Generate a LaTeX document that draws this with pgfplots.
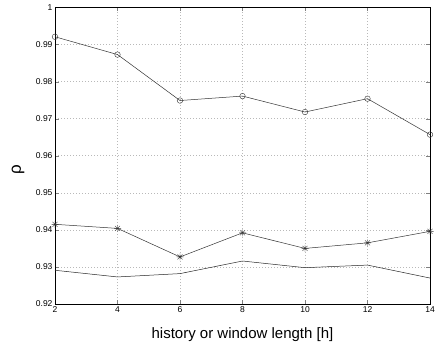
\documentclass[border=0pt]{standalone}
\usepackage{fontspec}
\setmainfont{Liberation Sans}
\usepackage{pgfplots}
\pgfplotsset{compat=1.18}
\pgfdeclareplotmark{mstar}{%
  \pgfpathmoveto{\pgfqpoint{-\pgfplotmarksize}{0pt}}\pgfpathlineto{\pgfqpoint{\pgfplotmarksize}{0pt}}%
  \pgfpathmoveto{\pgfqpoint{0pt}{-\pgfplotmarksize}}\pgfpathlineto{\pgfqpoint{0pt}{\pgfplotmarksize}}%
  \pgfpathmoveto{\pgfqpoint{-0.707\pgfplotmarksize}{-0.707\pgfplotmarksize}}\pgfpathlineto{\pgfqpoint{0.707\pgfplotmarksize}{0.707\pgfplotmarksize}}%
  \pgfpathmoveto{\pgfqpoint{-0.707\pgfplotmarksize}{0.707\pgfplotmarksize}}\pgfpathlineto{\pgfqpoint{0.707\pgfplotmarksize}{-0.707\pgfplotmarksize}}%
  \pgfusepathqstroke}
\begin{document}
\begin{tikzpicture}
\begin{axis}[name=ax,
  scale only axis, width=375pt, height=296.5pt,
  xmin=2, xmax=14, ymin=0.92, ymax=1,
  xtick={2,4,...,14},
  ytick={0.92,0.93,...,1.001},
  yticklabels={0.92,0.93,0.94,0.95,0.96,0.97,0.98,0.99,1},
  /pgf/number format/assume math mode=true,
  tick label style={font=\fontsize{8.5}{10}\selectfont},
  xticklabel style={yshift=1pt},
  yticklabel style={xshift=1pt},
  tick align=inside, tick pos=both,
  major tick length=4pt,
  grid=major,
  major grid style={dash pattern=on 0.7pt off 2.3pt, gray!55, line width=0.5pt},
  axis line style={black, line width=0.5pt},
  xlabel={history or window length [h]},
  xlabel style={font=\fontsize{15}{18}\selectfont, at={(axis description cs:0.5,-0.1147)}, anchor=base},
  clip=false,
]
\addplot[black!80, line width=0.5pt, mark=o, mark size=2.8pt, mark options={line width=0.4pt}] coordinates {
(2,0.9921) (4,0.9873) (6,0.9749) (8,0.9761) (10,0.9718) (12,0.9754) (14,0.9657)};
\addplot[black!80, line width=0.5pt, mark=mstar, mark size=3.5pt, mark options={line width=0.4pt}] coordinates {
(2,0.9415) (4,0.9404) (6,0.9327) (8,0.9392) (10,0.9350) (12,0.9365) (14,0.9396)};
\addplot[black!85, line width=0.5pt, no marks] coordinates {
(2,0.9291) (4,0.9273) (6,0.9282) (8,0.9316) (10,0.9298) (12,0.9305) (14,0.9270)};
\node[font=\fontsize{17}{20}\selectfont, rotate=90, anchor=center, inner sep=0pt] at (axis description cs:-0.0987,0.452) {ρ};
\end{axis}
\pgfresetboundingbox
\path[use as bounding box] ([shift={(-55pt,-38pt)}]ax.south west) rectangle ([shift={(13pt,7.5pt)}]ax.north east);
\end{tikzpicture}
\end{document}
